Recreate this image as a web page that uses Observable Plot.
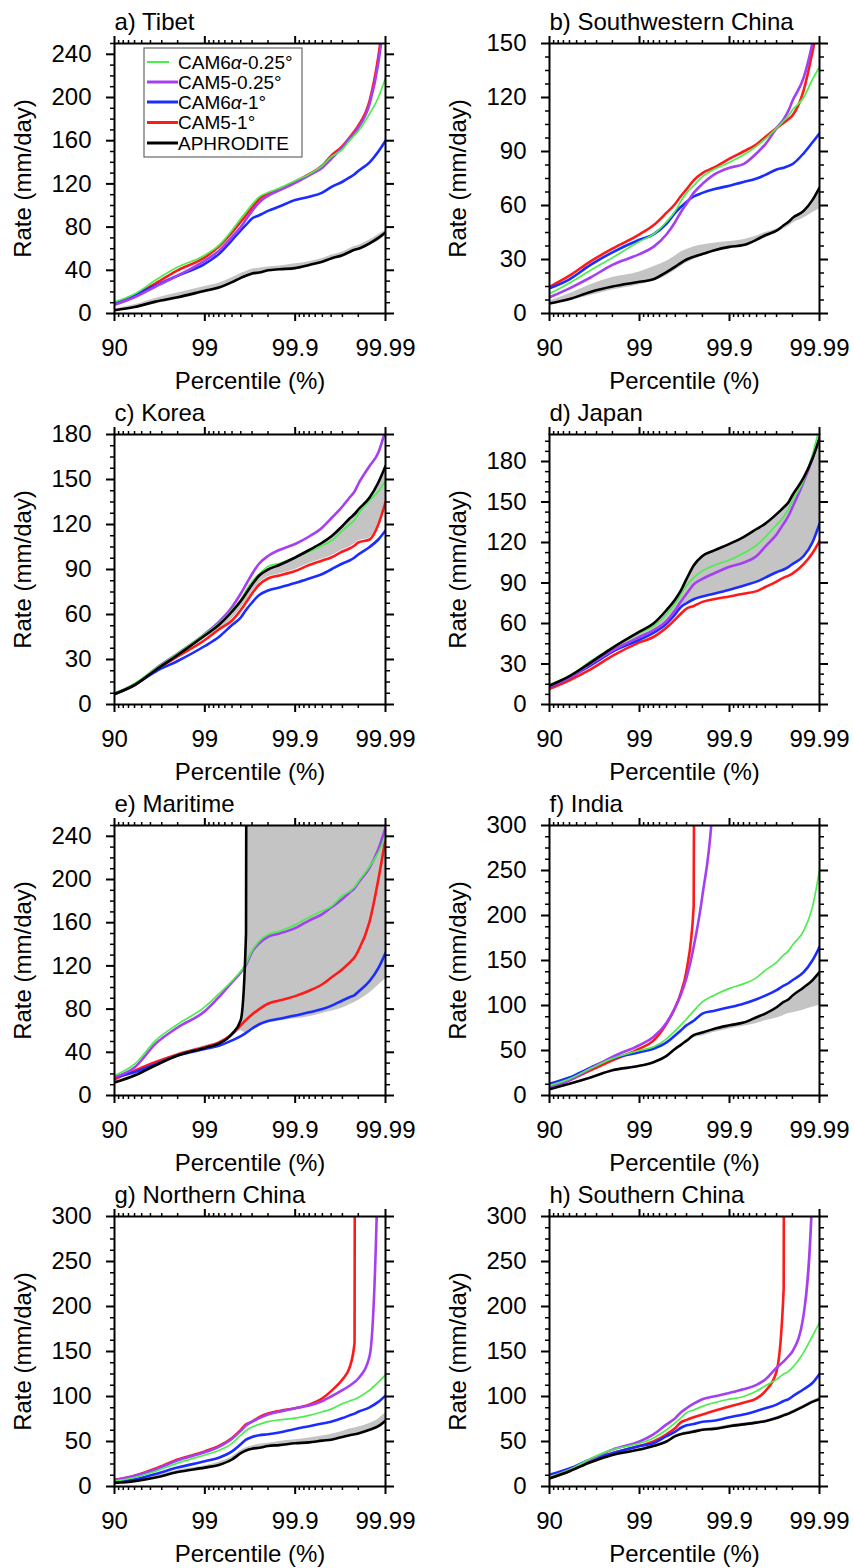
<!DOCTYPE html>
<html><head><meta charset="utf-8">
<script src="https://cdn.jsdelivr.net/npm/d3@7"></script>
<script src="https://cdn.jsdelivr.net/npm/@observablehq/plot@0.6"></script>
<style>
body{margin:0;background:#fff;}
#wrap{position:relative;width:854px;height:1568px;font-family:"Liberation Sans",Arial,sans-serif;background:#fff;}
#wrap svg{overflow:visible;}
.panel{position:absolute;}
</style></head><body><div id="wrap"></div>
<script>
// ---------- shared categories ----------
const percentiles = [90, 94, 96.5, 98, 99, 99.3, 99.5, 99.6, 99.65, 99.7, 99.75, 99.8, 99.85, 99.9, 99.93, 99.95, 99.96, 99.97, 99.975, 99.978, 99.98, 99.985, 99.988, 99.99];
const xTickValues = [90, 99, 99.9, 99.99];
const xTickLabels = ["90", "99", "99.9", "99.99"];
const xMinorValues = [91, 92, 93, 94, 95, 96, 97, 98, 99.1, 99.2, 99.3, 99.4, 99.5, 99.6, 99.7, 99.8, 99.91, 99.92, 99.93, 99.94, 99.95, 99.96, 99.97, 99.98];
const seriesNames = ["CAM6α-0.25°", "CAM5-0.25°", "CAM6α-1°", "CAM5-1°", "APHRODITE"];
const N = null;

// ---------- a) Tibet ----------
const tibetYTicks = [0, 40, 80, 120, 160, 200, 240];
const tibetCAM6a025 = [10.8, 18, 31, 43, 54, 63, 77, 88, 94, 101, 108, 112, 116, 123, 129, 137, 145, 152, 160, 165, 169, 185, 200, 218];
const tibetCAM5025 = [8, 15, 25, 35, 49, 58, 71, 80, 87, 95, 103, 109, 114, 121, 128, 135, 143, 154, 162, 167, 172, 194, 232, 285];
const tibetCAM6a1 = [9, 17, 26, 35, 46, 55, 68, 77, 82, 88, 91, 95, 99, 105, 108, 112, 117, 122, 126, 129, 132, 140, 150, 160];
const tibetCAM51 = [9, 17, 28, 40, 52, 62, 75, 85, 91, 98, 106, 111, 115, 122, 129, 137, 146, 155, 163, 169, 174, 197, 238, 290];
const tibetAPHRO = [3, 6, 11, 15, 21, 24, 29, 33, 35, 37, 38, 40, 41, 42, 45, 48, 51, 54, 57, 59, 60, 65, 70, 75];
const tibetObsLow = [2, 5, 9, 13, 19, 22, 27, 31, 33, 35, 37, 39, 40, 41, 44, 47, 50, 53, 56, 58, 59, 63, 67, 72];
const tibetObsHigh = [4, 8, 14, 19, 25, 28, 33, 37, 39, 41, 42, 43, 44, 46, 48, 51, 54, 57, 60, 62, 63, 68, 73, 77];

// ---------- b) Southwestern China ----------
const swYTicks = [0, 30, 60, 90, 120, 150];
const swCAM6a025 = [11, 17, 24, 31, 40, 44, 51, 57, 62, 67, 71, 76, 80, 84, 88, 93, 97, 103, 107, 110, 113, 120, 130, 137];
const swCAM5025 = [9, 14, 20, 27, 33, 37, 44, 51, 56, 61, 67, 72, 77, 81, 83, 89, 94, 103, 108, 113, 118, 131, 150, 170];
const swCAM6a1 = [14, 19, 27, 34, 41, 44, 50, 56, 59, 62, 65, 67, 69, 71, 73, 75, 77, 80, 81, 82, 83, 89, 95, 100];
const swCAM51 = [14.8, 21, 29, 36, 44, 49, 56, 61, 65, 69, 74, 78, 81, 86, 90, 94, 98, 103, 106, 108, 110, 124, 145, 165];
const swAPHRO = [5.5, 8, 12, 15, 17.6, 19, 23, 26, 28, 30, 31.5, 33, 35, 37, 38, 41, 43.5, 46, 49, 51, 53, 57, 63, 70];
const swObsLow = [5, 7, 10, 13, 16, 18, 21, 24, 26, 28, 30, 32, 34, 36, 38, 40, 42, 45, 47, 48.5, 50, 53, 56, 58];
const swObsHigh = [7, 11, 16, 20, 23, 26, 29, 32, 34, 35.5, 37, 38, 39, 40, 41, 43, 45, 47, 49, 51, 53, 57, 62, 68];

// ---------- c) Korea ----------
const koreaYTicks = [0, 30, 60, 90, 120, 150, 180];
const koreaCAM6a025 = [7.5, 14, 24, 34, 47, 54, 63, 70, 76, 82, 87, 92, 94, 98, 102, 106, 109, 116, 120, 123, 127, 136, 142, 149];
const koreaCAM5025 = [7, 13, 24, 34, 47, 55, 65, 74, 80, 87, 94, 99, 103, 107, 112, 118, 124, 132, 138, 142, 147, 159, 168, 183];
const koreaCAM6a1 = [7, 13, 22, 29, 39, 45, 53, 58, 63, 68, 73, 76, 78, 81, 84, 87, 90, 94, 96, 98, 100, 105, 110, 116];
const koreaCAM51 = [7, 13, 23, 32, 43, 50, 56, 63, 68, 74, 80, 84, 86, 89, 93, 96, 98, 102, 104, 106, 108, 110, 120, 135];
const koreaAPHRO = [7, 13, 23, 33, 46, 53, 62, 69, 74, 80, 86, 90, 93, 98, 103, 108, 112, 119, 124, 127, 130, 138, 148, 159];
const koreaObsLow = [6.5, 12.5, 22, 32, 44, 50, 57, 64, 69, 75, 81, 85, 87, 90, 94, 97, 99, 103, 105, 107, 109, 111, 121, 136];
const koreaObsHigh = [7.5, 13.5, 23.5, 34, 46.5, 53.5, 62.5, 69, 74, 80, 86, 90, 93, 98, 103, 108, 112, 119, 124, 127, 130, 138, 148, 159];

// ---------- d) Japan ----------
const japanYTicks = [0, 30, 60, 90, 120, 150, 180];
const japanCAM6a025 = [15, 21, 32, 42, 53, 58, 67, 75, 81, 88, 94, 99, 103, 107, 112, 118, 124, 133, 139, 145, 151, 166, 185, 205];
const japanCAM5025 = [13.5, 20, 30, 40, 50, 55, 62, 70, 76, 82, 89, 93, 97, 102, 105, 110, 117, 126, 134, 140, 146, 165, 182, 198];
const japanCAM6a1 = [13, 20, 29, 39, 48, 53, 60, 67, 72, 75, 78, 80, 82, 85, 88, 91, 94, 98, 100, 102, 104, 110, 120, 134];
const japanCAM51 = [11.6, 18, 26, 36, 46, 50, 57, 63, 67, 71, 73, 76, 78, 80, 82, 84, 87, 91, 94, 95.5, 97, 104, 112, 121];
const japanAPHRO = [14, 21, 31, 42, 54, 60, 70, 78, 84, 93, 103, 110, 114, 119, 124, 130, 134, 141, 146, 150, 155, 168, 182, 197];
const japanObsLow = [13, 20, 29, 39, 48, 53, 60, 67, 72, 75, 78, 80, 82, 85, 88, 91, 94, 98, 100, 102, 104, 110, 120, 134];
const japanObsHigh = [14, 21, 31, 42, 54, 60, 70, 78, 84, 93, 103, 110, 114, 119, 124, 130, 134, 141, 146, 150, 155, 168, 182, 197];

// ---------- e) Maritime ----------
const maritimeYTicks = [0, 40, 80, 120, 160, 200, 240];
const maritimeCAM6a025 = [18.5, 29, 51, 66, 82, 94, 106, 115, 122, 134, 143, 149, 152, 158, 165, 171, 175, 185, 189, 193, 198, 212, 225, 240];
const maritimeCAM5025 = [17, 26, 48, 63, 78, 91, 105, 114, 121, 133, 141, 147, 150, 155, 162, 168, 174, 182, 188, 192, 197, 211, 228, 248];
const maritimeCAM6a1 = [17, 21.5, 29, 37, 43, 46, 51, 55, 58, 62, 66, 69, 71, 74, 77, 80, 83, 88, 91, 93, 96, 106, 118, 132];
const maritimeCAM51 = [15, 23, 31, 38, 45, 49, 57, 65, 70, 75, 80, 85, 88, 92, 97, 103, 109, 117, 123, 128, 134, 161, 200, 238];
const maritimeAPHRO = [12, 18.5, 28, 37, 44, 48, 57, 70, 150, 3000, N, N, N, N, N, N, N, N, N, N, N, N, N, N];
const maritimeObsLow = [12, 18.5, 28, 37, 44, 48, 55, 60, 58, 60, 64, 67, 69, 71, 73, 76, 78, 81, 84, 86, 88, 95, 102, 108];
const maritimeObsHigh = [13, 20, 31, 39, 46, 50, 58, 70, 150, 3000, 3000, 3000, 3000, 3000, 3000, 3000, 3000, 3000, 3000, 3000, 3000, 3000, 3000, 3000];

// ---------- f) India ----------
const indiaYTicks = [0, 50, 100, 150, 200, 250, 300];
const indiaCAM6a025 = [11, 18.5, 30, 41, 50, 54, 63, 72, 78, 85, 94, 104, 111, 119, 124, 131, 139, 148, 156, 161, 167, 183, 209, 250];
const indiaCAM5025 = [9, 17, 30, 43, 56, 65, 81, 98, 111, 131, 165, 222, 340, 3000, N, N, N, N, N, N, N, N, N, N];
const indiaCAM6a1 = [13, 20, 31, 41, 48, 52, 59, 67, 72, 78, 83, 91, 94, 98, 102, 107, 111, 117, 122, 125, 128, 137, 150, 165];
const indiaCAM51 = [9, 17, 28, 39, 52, 61, 80, 98, 113, 139, 210, 3000, N, N, N, N, N, N, N, N, N, N, N, N];
const indiaAPHRO = [7, 13, 20, 28, 33, 37, 44, 52, 56, 61, 67, 70, 74, 78, 81, 87, 91, 98, 104, 107, 111, 120, 128, 137];
const indiaObsLow = [7, 13, 20, 28, 33, 37, 44, 52, 56, 60, 64, 66, 70, 74, 77, 80, 83, 86, 89, 91, 92, 95, 98, 100];
const indiaObsHigh = [7, 13, 20, 28, 33, 37, 44, 52, 56, 61, 67, 70, 74, 78, 81, 87, 91, 98, 104, 107, 111, 120, 128, 137];

// ---------- g) Northern China ----------
const northYTicks = [0, 50, 100, 150, 200, 250, 300];
const northCAM6a025 = [6, 10, 17, 26, 35, 40, 48, 57, 62, 66, 69, 72, 74, 76, 79, 83, 86, 92, 95, 97, 99, 107, 116, 124];
const northCAM5025 = [7, 12, 19, 29, 38, 44, 53, 62, 68, 72, 76, 80, 83, 87, 90, 95, 100, 107, 112, 116, 120, 145, 380, 3000];
const northCAM6a1 = [5, 8, 14, 21, 28, 32, 39, 47, 52, 55, 57, 58, 60, 64, 67, 70, 72, 76, 79, 81, 83, 88, 94, 101];
const northCAM51 = [7.4, 12, 20, 30, 39, 45, 54, 63, 69, 72, 77, 81, 84, 87, 91, 98, 106, 119, 132, 160, 3000, N, N, N];
const northAPHRO = [4, 6, 10, 16, 21, 24, 30, 37, 40, 42, 43, 45, 46, 48, 49, 51, 52, 55, 57, 58, 59, 63, 67, 73];
const northObsLow = [3.5, 5.5, 9.5, 15.5, 20.5, 23.5, 29.5, 36.5, 39.5, 41.5, 42.5, 44.5, 45.5, 47.5, 48.5, 50.5, 51.5, 54.5, 56.5, 57.5, 58.5, 62.5, 66.5, 72.5];
const northObsHigh = [5, 7, 12, 18, 23, 27, 33, 40, 43, 45, 47, 48, 50, 52, 54, 56, 58, 61, 64, 65, 66, 70, 75, 82];

// ---------- h) Southern China ----------
const southYTicks = [0, 50, 100, 150, 200, 250, 300];
const southCAM6a025 = [11, 18.6, 31, 41, 48, 54, 63, 71, 76, 82, 85, 89, 93, 97, 100, 106, 112, 119, 125, 128, 132, 149, 167, 182];
const southCAM5025 = [10, 18.6, 30, 41, 50, 58, 69, 76, 82, 87, 92, 97, 100, 104, 108, 113, 119, 132, 139, 145, 150, 191, 330, 3000];
const southCAM6a1 = [13, 20, 30, 37, 45, 48, 56, 61, 65, 68, 69.5, 72, 73, 77, 80, 84, 87, 91, 95, 97, 100, 108, 115, 125];
const southCAM51 = [9, 17, 28, 37, 45, 50, 58, 65, 71, 74, 77, 80, 84, 89, 93, 98, 106, 128, 220, 3000, N, N, N, N];
const southAPHRO = [9, 17, 27, 35, 41, 45, 50, 56, 58, 59.5, 61, 63, 64, 67, 69, 71, 72.5, 76, 79, 81, 83, 89, 94, 97];
const southObsLow = [8, 16, 26, 34, 40, 44, 49, 55, 57, 58.5, 60, 62, 63, 66, 68, 70, 71.5, 75, 78, 80, 82, 88, 93, 96];
const southObsHigh = [10, 18, 28, 36, 42, 46, 51, 57, 59, 61, 62.5, 64.5, 65.5, 68.5, 70.5, 72.5, 74, 77.5, 80.5, 82.5, 84.5, 90.5, 95.5, 99];

// ---------- panel table built from the arrays ----------
const panels = [
  {title: "a) Tibet", yMax: 250, yTicks: tibetYTicks, s: [tibetCAM6a025, tibetCAM5025, tibetCAM6a1, tibetCAM51, tibetAPHRO], lo: tibetObsLow, hi: tibetObsHigh, legend: true},
  {title: "b) Southwestern China", yMax: 150, yTicks: swYTicks, s: [swCAM6a025, swCAM5025, swCAM6a1, swCAM51, swAPHRO], lo: swObsLow, hi: swObsHigh},
  {title: "c) Korea", yMax: 180, yTicks: koreaYTicks, s: [koreaCAM6a025, koreaCAM5025, koreaCAM6a1, koreaCAM51, koreaAPHRO], lo: koreaObsLow, hi: koreaObsHigh},
  {title: "d) Japan", yMax: 200, yTicks: japanYTicks, s: [japanCAM6a025, japanCAM5025, japanCAM6a1, japanCAM51, japanAPHRO], lo: japanObsLow, hi: japanObsHigh},
  {title: "e) Maritime", yMax: 250, yTicks: maritimeYTicks, s: [maritimeCAM6a025, maritimeCAM5025, maritimeCAM6a1, maritimeCAM51, maritimeAPHRO], lo: maritimeObsLow, hi: maritimeObsHigh},
  {title: "f) India", yMax: 300, yTicks: indiaYTicks, s: [indiaCAM6a025, indiaCAM5025, indiaCAM6a1, indiaCAM51, indiaAPHRO], lo: indiaObsLow, hi: indiaObsHigh},
  {title: "g) Northern China", yMax: 300, yTicks: northYTicks, s: [northCAM6a025, northCAM5025, northCAM6a1, northCAM51, northAPHRO], lo: northObsLow, hi: northObsHigh},
  {title: "h) Southern China", yMax: 300, yTicks: southYTicks, s: [southCAM6a025, southCAM5025, southCAM6a1, southCAM51, southAPHRO], lo: southObsLow, hi: southObsHigh}
];

const colors = ["#4ded4d", "#a53ff2", "#1a2cff", "#ff1a1a", "#000000"];
const widths = [1.7, 2.6, 2.6, 2.6, 2.6];
const drawOrder = [3, 2, 1, 0, 4];
const FONT = '"Liberation Sans", Arial, Helvetica, sans-serif';

// percentile -> position on a "return-period" axis (90 -> 1, 99 -> 2, 99.9 -> 3, 99.99 -> 4)
const pos = p => 2 - Math.log10(100 - p);
const majorX = xTickValues.map(pos);
const minorX = xMinorValues.map(pos);

const wrap = document.getElementById("wrap");

panels.forEach((cfg, k) => {
  const col = k % 2, row = Math.floor(k / 2);
  const left = col === 0;
  const rows = percentiles.map((p, i) => ({
    x: pos(p),
    lo: cfg.lo[i], hi: cfg.hi[i],
    s0: cfg.s[0][i], s1: cfg.s[1][i], s2: cfg.s[2][i], s3: cfg.s[3][i], s4: cfg.s[4][i]
  }));
  const step = cfg.yTicks[1] - cfg.yTicks[0];
  const minorY = d3.range(0, cfg.yMax + 1e-6, step / 4).filter(v => Math.abs(v / step - Math.round(v / step)) > 1e-6);

  const lineMarks = drawOrder.map(j => Plot.line(rows, {
    x: "x", y: "s" + j, stroke: colors[j], strokeWidth: widths[j],
    curve: "monotone-x", clip: true, strokeLinejoin: "round"
  }));

  const svg = Plot.plot({
    width: left ? 430 : 424,
    height: 390,
    marginLeft: left ? 114 : 119,
    marginRight: left ? 45 : 35,
    marginTop: 43,
    marginBottom: 77,
    style: {fontFamily: FONT, fontSize: "24px", color: "black", background: "transparent", overflow: "visible"},
    x: {domain: [1, 4]},
    y: {domain: [0, cfg.yMax]},
    marks: [
      Plot.areaY(rows, {x: "x", y1: "lo", y2: "hi", fill: "#c4c4c4", curve: "monotone-x", clip: true}),
      ...lineMarks,
      Plot.frame({stroke: "black", strokeWidth: 2}),
      Plot.axisX(majorX, {anchor: "bottom", tickSize: 8, tickPadding: 17, strokeWidth: 2, label: null,
        tickFormat: d => xTickLabels[majorX.indexOf(d)], fontSize: 24}),
      Plot.axisX(minorX, {anchor: "bottom", tickSize: 4, strokeWidth: 1.5, label: null, tickFormat: () => ""}),
      Plot.axisX(majorX, {anchor: "top", tickSize: 8, strokeWidth: 2, label: null, tickFormat: () => ""}),
      Plot.axisX(minorX, {anchor: "top", tickSize: 4, strokeWidth: 1.5, label: null, tickFormat: () => ""}),
      Plot.axisY(cfg.yTicks, {anchor: "left", tickSize: 8, tickPadding: 15, strokeWidth: 2, label: null, fontSize: 24}),
      Plot.axisY(minorY, {anchor: "left", tickSize: 4, strokeWidth: 1.5, label: null, tickFormat: () => ""}),
      Plot.axisY(cfg.yTicks, {anchor: "right", tickSize: 8, strokeWidth: 2, label: null, tickFormat: () => ""}),
      Plot.axisY(minorY, {anchor: "right", tickSize: 4, strokeWidth: 1.5, label: null, tickFormat: () => ""}),
      Plot.text([cfg.title], {frameAnchor: "top-left", dy: -21, lineAnchor: "middle", textAnchor: "start", fontSize: 24}),
      Plot.text(["Rate (mm/day)"], {frameAnchor: "left", dx: -91, rotate: -90, lineAnchor: "middle", textAnchor: "middle", fontSize: 24}),
      Plot.text(["Percentile (%)"], {frameAnchor: "bottom", dy: 68, lineAnchor: "middle", textAnchor: "middle", fontSize: 24})
    ]
  });

  if (cfg.legend) {
    const g = d3.select(svg).append("g").attr("font-family", FONT).attr("text-anchor", "start");
    g.append("rect").attr("x", 144).attr("y", 48).attr("width", 158).attr("height", 109)
      .attr("fill", "none").attr("stroke", "#666").attr("stroke-width", 1.2);
    const ys = [62, 82, 102, 122.5, 143];
    seriesNames.forEach((name, j) => {
      g.append("line").attr("x1", 147).attr("x2", j === 0 ? 169 : 178).attr("y1", ys[j]).attr("y2", ys[j])
        .attr("stroke", colors[j]).attr("stroke-width", widths[j] + 0.4);
      const t = g.append("text").attr("x", 178).attr("y", ys[j]).attr("dy", "0.35em").attr("text-anchor", "start")
        .attr("font-size", 19).attr("fill", "black");
      const parts = name.split("α");
      parts.forEach((part, pi) => {
        if (pi > 0) t.append("tspan").attr("font-style", "italic").text("α");
        t.append("tspan").text(part);
      });
    });
  }

  const div = document.createElement("div");
  div.className = "panel";
  div.style.left = (left ? 0 : 430) + "px";
  div.style.top = (row * 391) + "px";
  div.appendChild(svg);
  wrap.appendChild(div);
});
</script>
</body></html>
